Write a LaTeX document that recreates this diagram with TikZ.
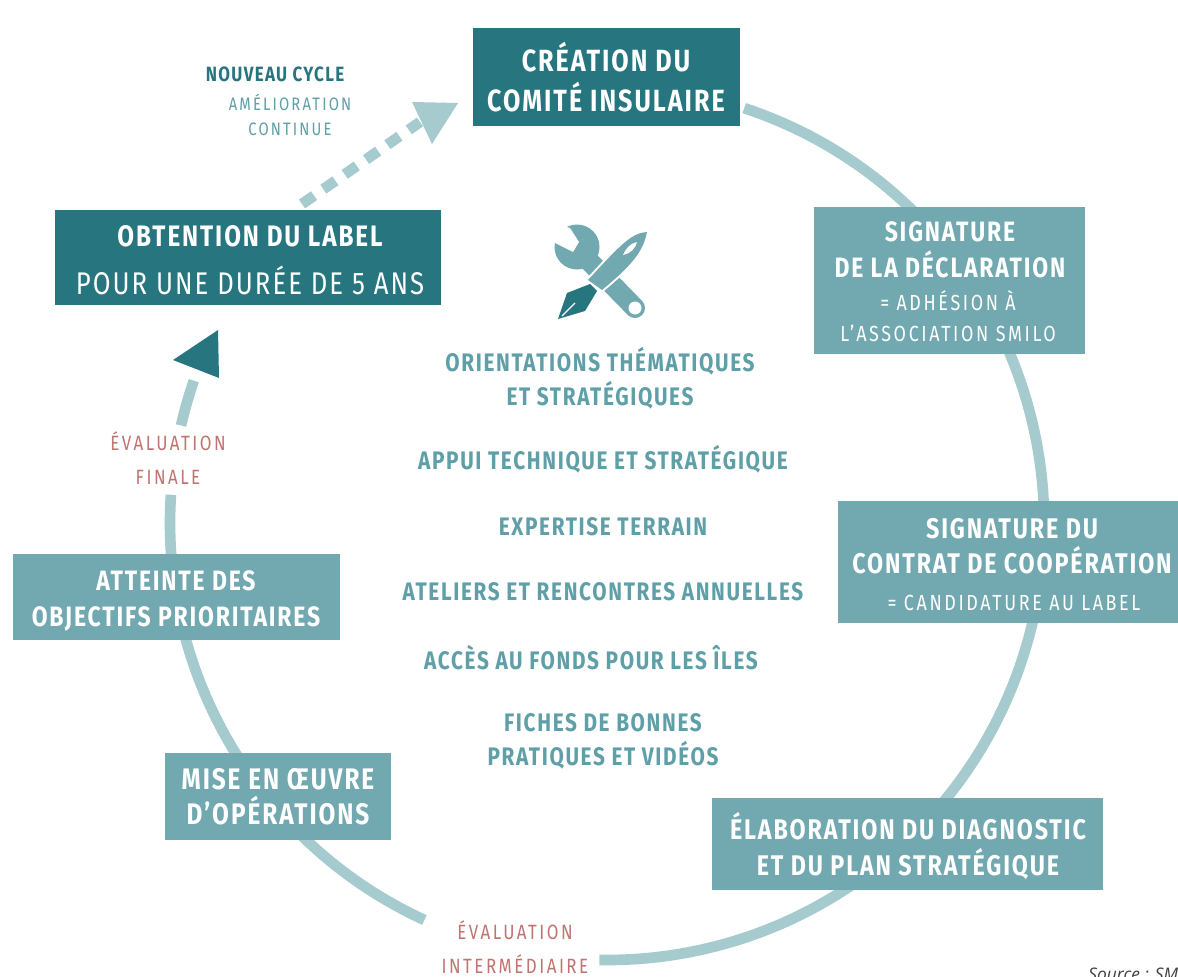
\documentclass[tikz,border=0pt]{standalone}
\usepackage{fontspec}
\setmainfont{Fira Sans}[FakeStretch=0.82,LetterSpace=6.5]
\newfontfamily\regfont{Fira Sans}[FakeStretch=0.82,LetterSpace=12]
\newfontfamily\srcfont{Open Sans}
\definecolor{dk}{HTML}{27757F}
\definecolor{md}{HTML}{72A9B0}
\definecolor{lt}{HTML}{A5CBCE}
\definecolor{tx}{HTML}{5F9FA7}
\definecolor{rd}{HTML}{C07470}
\newcommand{\pxfont}[2]{\fontsize{#1}{#2}\selectfont}
\tikzset{
  x=0.75pt,y=-0.75pt,
  ring/.style={draw=lt,line width=8pt},
  head/.style={text=white,align=center,inner sep=0pt,font=\pxfont{21}{27}\bfseries},
  bodyt/.style={text=white,align=center,inner sep=0pt,font=\regfont\pxfont{16.4}{23}},
  midt/.style={text=tx,align=center,inner sep=0pt,font=\pxfont{19}{25.5}\bfseries},
  redt/.style={text=rd,align=center,inner sep=0pt,font=\regfont\pxfont{15.5}{26}},
}
\begin{document}
\begin{tikzpicture}
\useasboundingbox (0,0) rectangle (1178,977);
\clip (0,0) rectangle (1178,977);
\fill[white] (0,0) rectangle (1178,977);
% ring
\coordinate (c) at (607,523);
\begin{scope}[shift={(c)}]
\coordinate (r1) at (-71.7:437);
\coordinate (r2) at (114.7:437);
\coordinate (r3) at (192.9:437);
\draw[ring] (r1) arc[start angle=-71.7,end angle=91,radius=437];
\draw[ring] (r2) arc[start angle=114.7,end angle=183.7,radius=437];
\draw[ring] (r3) arc[start angle=192.9,end angle=199,radius=437];
\end{scope}
\fill[dk] (218,330) -- (219,378) -- (173,360) -- cycle;
% dashed arrow
\coordinate (ds) at (302,204);
\coordinate (de) at (420,122);
\draw[draw=lt,line width=8pt,dash pattern=on 11pt off 8.5pt] (ds) -- (de);
\fill[lt] (412,102) -- (458,103) -- (432,144) -- cycle;
% boxes
\fill[dk] (473,28) rectangle (740,126);
\fill[dk] (55,210) rectangle (441,305);
\fill[md] (814,207) rectangle (1085,354);
\fill[md] (838,501) rectangle (1178,623);
\fill[md] (712,798) rectangle (1103,890);
\fill[md] (165,753) rectangle (391,840);
\fill[md] (13,554) rectangle (340,640);
% box text
\node[head,font=\pxfont{23}{30}\bfseries] (n1) at (606,77) {CRÉATION DU\\COMITÉ INSULAIRE};
\node[head,font=\pxfont{22.2}{28}\bfseries] (n2) at (250,236) {OBTENTION DU LABEL};
\node[head,font=\pxfont{23.5}{28}] (n2b) at (250,280) {POUR UNE DURÉE DE 5 ANS};
\node[head,font=\pxfont{21}{27}\bfseries] (n3) at (950,250) {SIGNATURE\\DE LA DÉCLARATION};
\node[bodyt] (n3b) at (948,316) {= ADHÉSION À\\L’ASSOCIATION SMILO};
\node[head,font=\pxfont{21.3}{26}\bfseries] (n4) at (1012,546) {SIGNATURE DU\\CONTRAT DE COOPÉRATION};
\node[bodyt] (n4b) at (1014,603) {= CANDIDATURE AU LABEL};
\node[head,font=\pxfont{21.3}{27}\bfseries] (n5) at (908,846) {ÉLABORATION DU DIAGNOSTIC\\ET DU PLAN STRATÉGIQUE};
\node[head,font=\pxfont{22.3}{26.5}\bfseries] (n6) at (278,797) {MISE EN ŒUVRE\\D’OPÉRATIONS};
\node[head] (n7) at (176,601) {ATTEINTE DES\\OBJECTIFS PRIORITAIRES};
% labels
\node[align=center,inner sep=0pt,text=dk,font=\pxfont{15.5}{20}\bfseries] (l1) at (275,74) {NOUVEAU CYCLE};
\node[align=center,inner sep=0pt,text=tx,font=\regfont\pxfont{13.5}{18.5}] (l2) at (290,115) {AMÉLIORATION\\CONTINUE};
\node[redt] (e1) at (168,458) {ÉVALUATION\\FINALE};
\node[redt] (e2) at (515,947) {ÉVALUATION\\INTERMÉDIAIRE};
% centre
\node[midt] (m1) at (600,378) {ORIENTATIONS THÉMATIQUES\\ET STRATÉGIQUES};
\node[midt] (m2) at (603,459) {APPUI TECHNIQUE ET STRATÉGIQUE};
\node[midt] (m3) at (603,527) {EXPERTISE TERRAIN};
\node[midt] (m4) at (603,592) {ATELIERS ET RENCONTRES ANNUELLES};
\node[midt] (m5) at (591,658) {ACCÈS AU FONDS POUR LES ÎLES};
\node[midt] (m6) at (603,741) {FICHES DE BONNES\\PRATIQUES ET VIDÉOS};
% icon: wrench
\draw[md,line width=15pt,line cap=round] (590,262) -- (635,308);
\fill[md] (577,247) circle (22.5);
\fill[white] (570,228) -- (579,242) -- (573,252) -- (555,243) -- (545,235) -- (550,222) -- cycle;
\fill[white] (635,308) circle (6.5);
% icon: pen
\fill[white,draw=white,line width=3pt] (647,232) .. controls (632,233) and (622,243) .. (588,280) -- (602,290) .. controls (632,265) and (643,252) .. cycle;
\fill[md] (647,232) .. controls (632,233) and (622,243) .. (588,280) -- (602,290) .. controls (632,265) and (643,252) .. cycle;
\fill[white] (637,242) .. controls (630,243) and (625,250) .. (623,255) .. controls (630,254) and (636,248) .. cycle;
\fill[dk] (590,284) -- (597,291) -- (585,311) -- (558,319) -- (567,293) -- cycle;
\draw[white,line width=1pt] (575,303) -- (562,316);
% source
\node[anchor=west,inner sep=0pt,text=black!75,font=\srcfont\itshape\pxfont{13}{14}] (src) at (1088,974) {Source : SM};
\end{tikzpicture}
\end{document}
